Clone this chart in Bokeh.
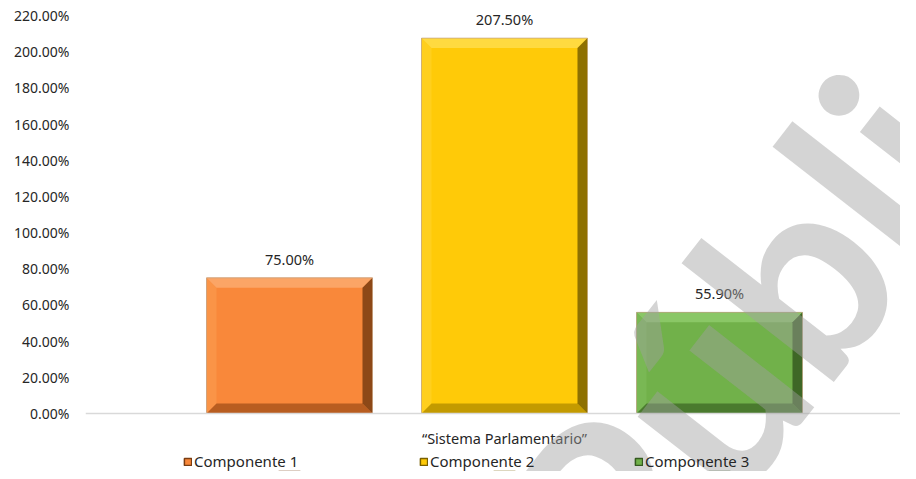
import numpy as np
from bokeh.plotting import figure
from bokeh.models import (ColumnDataSource, Range1d, FixedTicker, NumeralTickFormatter,
                          Legend, LegendItem, Label, Span)
from bokeh.core.properties import value
from bokeh.embed import file_html
from bokeh.resources import INLINE

# ---- data ----
category = "\u201cSistema Parlamentario\u201d"
series = ["Componente 1", "Componente 2", "Componente 3"]
values = [0.75, 2.075, 0.559]
labels = ["75.00%", "207.50%", "55.90%"]
y_ticks = [0.0, 0.2, 0.4, 0.6, 0.8, 1.0, 1.2, 1.4, 1.6, 1.8, 2.0, 2.2]
watermark = "Pública"

base_colors = ["#F9883A", "#FFCA08", "#71B14A"]
light_colors = ["#FBA566", "#FFDA40", "#8AC766"]
left_colors = ["#FA9447", "#FFCF1E", "#79B854"]
bottom_colors = ["#B85D20", "#C39A00", "#4A7A2E"]
right_colors = ["#7A3D12", "#7A6000", "#355A20"]

FONT = "Noto Sans"

W, H = 900, 471
BL = 85
X0 = 504            # pixel of the category centre
Y0, Y220 = 413, 15  # pixels of 0 % and 220 %
px_x = 215.0
px_y = (Y0 - Y220) / 2.2
legend_px = [183, 419, 634]

x_pos = [i - 1 for i in range(len(series))]
bar_w = 0.772

src = ColumnDataSource(dict(x=x_pos, top=values, lab=labels, base=base_colors))

p = figure(width=W, height=H, output_backend="svg", toolbar_location=None,
           x_range=Range1d(-(X0 - BL) / px_x, (W - X0) / px_x),
           y_range=Range1d(-(H - Y0) / px_y, 2.2 + Y220 / px_y),
           min_border_left=BL, min_border_top=0, min_border_right=0,
           min_border_bottom=0)
p.outline_line_color = None
p.grid.grid_line_color = None
p.xaxis.visible = False

# baseline
p.add_layout(Span(location=0, dimension="width", line_color="#D9D9D9", line_width=1.5))

# main bars
p.vbar(x="x", top="top", bottom=0, width=bar_w, source=src,
       fill_color="base", line_color=None)

# bevel polygons computed from the data
dx = 10 / px_x
dy = 10 / px_y
xs_top, ys_top, xs_r, ys_r, xs_b, ys_b, xs_l, ys_l = ([] for _ in range(8))
for xc, v in zip(x_pos, values):
    L, R, T = xc - bar_w / 2, xc + bar_w / 2, v
    xs_top.append([L, R, R - dx, L + dx]); ys_top.append([T, T, T - dy, T - dy])
    xs_r.append([R, R, R - dx, R - dx]); ys_r.append([T, 0, dy, T - dy])
    xs_b.append([L, R, R - dx, L + dx]); ys_b.append([0, 0, dy, dy])
    xs_l.append([L, L, L + dx, L + dx]); ys_l.append([T, 0, dy, T - dy])
p.patches(xs_l, ys_l, fill_color=left_colors, line_color=None)
p.patches(xs_b, ys_b, fill_color=bottom_colors, line_color=None)
p.patches(xs_top, ys_top, fill_color=light_colors, line_color=None)
p.patches(xs_r, ys_r, fill_color=right_colors, line_color=None, fill_alpha=0.85)
p.vbar(x="x", top="top", bottom=0, width=bar_w, source=src, fill_color=None,
       line_color="#BFA080", line_width=1, line_alpha=0.7)

# data labels
p.text(x="x", y="top", text="lab", source=src, text_align="center",
       text_baseline="bottom", y_offset=-9, text_font=value(FONT),
       text_font_size="14.5px", text_color="#262626")

# category label (x axis)
p.text(x=[0], y=[0], text=[category], text_align="center", text_baseline="middle",
       y_offset=24, text_font=value(FONT), text_font_size="14.5px",
       text_color="#262626")

# y axis
p.yaxis.ticker = FixedTicker(ticks=y_ticks)
p.yaxis.formatter = NumeralTickFormatter(format="0.00%")
p.yaxis.axis_line_color = None
p.yaxis.major_tick_line_color = None
p.yaxis.minor_tick_line_color = None
p.yaxis.major_label_standoff = 10
p.yaxis.major_label_text_font = FONT
p.yaxis.major_label_text_font_size = "14px"
p.yaxis.major_label_text_color = "#262626"

# legend: one small legend per series, placed like the reference
for i, s in enumerate(series):
    r = p.vbar(x=[x_pos[i]], top=[-5], bottom=[-6], width=0.1,
               fill_color=base_colors[i], line_color=right_colors[i], line_width=1.5)
    lg = Legend(items=[LegendItem(label=s, renderers=[r])], orientation="horizontal",
                location=(legend_px[i] - BL, 0), glyph_width=9, glyph_height=9,
                label_standoff=2, label_text_font=FONT, label_text_font_size="15px",
                label_text_color="#262626", border_line_color=None, padding=0,
                margin=0, background_fill_alpha=0, label_height=10)
    p.add_layout(lg, "center")

# watermark
wm = Label(x=(555 - X0) / px_x, y=(Y0 - 574) / px_y, text=watermark,
           angle=0.908, text_align="left", text_baseline="alphabetic",
           text_font="Lato", text_font_style="bold", text_font_size="260px",
           text_color="#A0A0A0", text_alpha=0.45)
p.add_layout(wm)

open("out.html", "w").write(file_html(p, INLINE))
